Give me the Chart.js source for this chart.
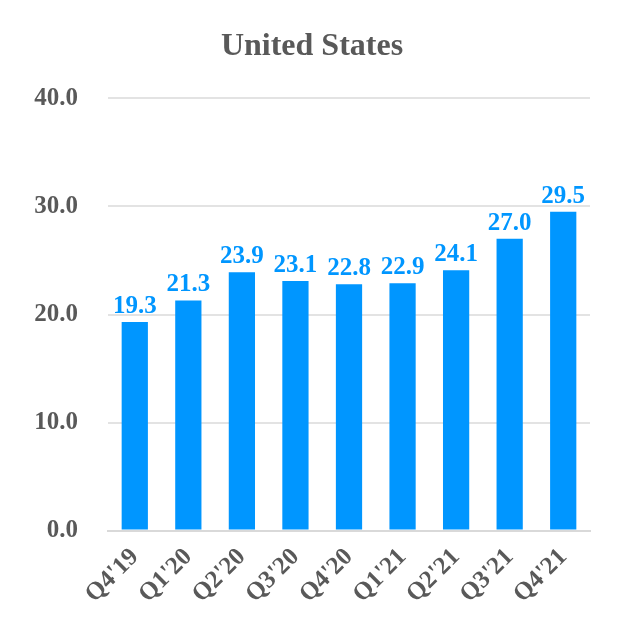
<!DOCTYPE html>
<html>
<head>
<meta charset="utf-8">
<script src="https://cdn.jsdelivr.net/npm/chart.js@4/dist/chart.umd.min.js"></script>
<style>
  html, body { margin: 0; padding: 0; background: #fff; }
  #wrap { width: 620px; height: 640px; }
</style>
</head>
<body>
<div id="wrap"><canvas id="myChart" width="620" height="640"></canvas></div>
<script>
const quarters = ["Q4'19", "Q1'20", "Q2'20", "Q3'20", "Q4'20", "Q1'21", "Q2'21", "Q3'21", "Q4'21"];
const values = [19.3, 21.3, 23.9, 23.1, 22.8, 22.9, 24.1, 27.0, 29.5];
const yTicks = [0, 10, 20, 30, 40];

const textGray = '#595959';
const barBlue = '#0096FF';
const serif = "'Liberation Serif', 'Times New Roman', serif";

// draw value labels above bars
const barLabels = {
    id: 'barLabels',
    afterDatasetsDraw(chart) {
        const ctx = chart.ctx;
        const meta = chart.getDatasetMeta(0);
        ctx.save();
        ctx.font = 'bold 25px ' + serif;
        ctx.fillStyle = barBlue;
        ctx.textAlign = 'center';
        ctx.textBaseline = 'bottom';
        meta.data.forEach((bar, i) => {
            ctx.fillText(values[i].toFixed(1), bar.x, bar.y - 3);
        });
        ctx.restore();
    }
};

const ctx = document.getElementById('myChart').getContext('2d');
new Chart(ctx, {
    type: 'bar',
    data: {
        labels: quarters,
        datasets: [{
            data: values,
            backgroundColor: barBlue,
            categoryPercentage: 1,
            barPercentage: 0.49
        }]
    },
    options: {
        responsive: false,
        animation: false,
        layout: { padding: { left: 34, right: 30, top: 10, bottom: 27 } },
        plugins: {
            legend: { display: false },
            tooltip: { enabled: false },
            title: {
                display: true,
                text: 'United States',
                color: textGray,
                font: { family: serif, size: 32, weight: 'bold' },
                padding: { top: 18, bottom: 32 }
            }
        },
        scales: {
            x: {
                grid: { display: false },
                border: { display: true, color: '#d9d9d9', width: 2 },
                afterFit(axis) { axis.paddingLeft = 0; },
                ticks: {
                    color: textGray,
                    font: { family: serif, size: 25, weight: 'bold' },
                    minRotation: 45,
                    maxRotation: 45,
                    padding: 4
                }
            },
            y: {
                min: yTicks[0],
                max: yTicks[yTicks.length - 1],
                afterBuildTicks(axis) {
                    axis.ticks = yTicks.map(v => ({ value: v }));
                },
                afterFit(axis) { axis.width = 74; },
                grid: { color: '#e3e3e3', lineWidth: 2, drawTicks: false },
                border: { display: false },
                ticks: {
                    color: textGray,
                    font: { family: serif, size: 25, weight: 'bold' },
                    padding: 30,
                    callback: v => Number(v).toFixed(1)
                }
            }
        }
    },
    plugins: [barLabels]
});
</script>
</body>
</html>
